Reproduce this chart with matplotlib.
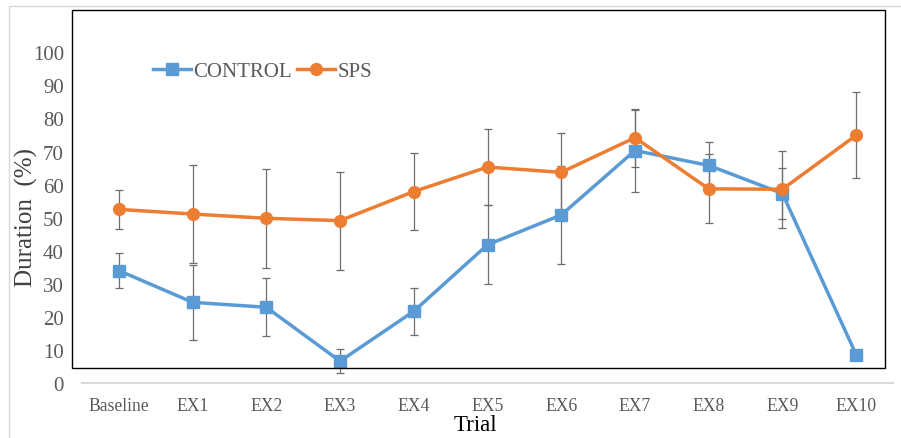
import numpy as np
import matplotlib.pyplot as plt
from matplotlib.patches import Rectangle
from matplotlib.lines import Line2D

plt.rcParams['font.family'] = ['Liberation Serif', 'DejaVu Serif']

trials = ['Baseline', 'EX1', 'EX2', 'EX3', 'EX4', 'EX5',
          'EX6', 'EX7', 'EX8', 'EX9', 'EX10']

control_mean = [34.0, 24.4, 22.9, 6.6, 21.7, 41.8, 50.8, 70.3, 65.8, 57.3, 8.6]
control_err = [5.2, 11.3, 8.7, 3.6, 7.1, 12.0, 14.7, 12.4, 7.0, 7.7, 0.0]

sps_mean = [52.5, 51.1, 49.8, 49.1, 57.9, 65.3, 63.7, 74.2, 58.7, 58.6, 74.9]
sps_err = [5.8, 14.7, 15.0, 14.8, 11.7, 11.4, 11.9, 8.8, 10.4, 11.7, 13.0]

yticks = [0, 10, 20, 30, 40, 50, 60, 70, 80, 90, 100]

blue = '#5B9BD5'
orange = '#ED7D31'
grey_txt = '#595959'
err_col = '#6E6E6E'

W, H = 901, 439
fig = plt.figure(figsize=(W / 100, H / 100), dpi=100)

# outer chart border
fig.patches.append(Rectangle((9 / W, -0.1), 1.2, 1 - 7 / H + 0.1,
                             transform=fig.transFigure, fill=False,
                             edgecolor='#D9D9D9', lw=1.0, zorder=0))

ax = fig.add_axes([82 / W, (H - 384) / H, 811 / W, 373 / H])
ax.set_xlim(-0.5, len(trials) - 0.5)
ax.set_ylim(0, 373 / 3.307)

x = np.arange(len(trials))

ax.errorbar(x, control_mean, yerr=control_err, fmt='none', ecolor=err_col,
            elinewidth=0.9, capsize=2.9, capthick=0.9, zorder=2, clip_on=False)
ax.errorbar(x, sps_mean, yerr=sps_err, fmt='none', ecolor=err_col,
            elinewidth=0.9, capsize=2.9, capthick=0.9, zorder=2, clip_on=False)

ax.plot(x, control_mean, color=blue, lw=2.5, marker='s', ms=8.5,
        zorder=3, clip_on=False)
ax.plot(x, sps_mean, color=orange, lw=2.5, marker='o', ms=8.5,
        zorder=4, clip_on=False)

for s in ['top', 'right', 'left']:
    ax.spines[s].set_visible(False)
ax.spines['bottom'].set_color('#D9D9D9')
ax.spines['bottom'].set_linewidth(1.5)

ax.set_yticks(yticks)
ax.set_yticklabels([str(v) for v in yticks])
ax.set_xticks(x)
ax.set_xticklabels(trials)
ax.tick_params(axis='y', length=0, pad=13, labelsize=15, labelcolor=grey_txt)
ax.tick_params(axis='x', length=0, pad=10, labelsize=12.7, labelcolor=grey_txt)

# black plot-area frame
fig.patches.append(Rectangle((72 / W, (H - 369) / H), 813 / W, 358 / H,
                             transform=fig.transFigure, fill=False,
                             edgecolor='black', lw=1.0, zorder=5))

fig.text(26 / W, 1 - 218 / H, 'Duration  (%)', rotation=90, ha='center',
         va='center', fontsize=18, color='#404040')
fig.text(475 / W, 1 - 426 / H, 'Trial', ha='center', va='center',
         fontsize=16.5, color='black')

handles = [Line2D([], [], color=blue, lw=2.5, marker='s', ms=8.5),
           Line2D([], [], color=orange, lw=2.5, marker='o', ms=8.5)]
leg = fig.legend(handles, ['CONTROL', 'SPS'], loc='center left',
                 bbox_to_anchor=(153 / W, 1 - 72 / H), ncol=2, frameon=False,
                 fontsize=15, handlelength=1.8, handletextpad=0.15,
                 columnspacing=0.25, borderpad=0, borderaxespad=0)
for t in leg.get_texts():
    t.set_color(grey_txt)

fig.savefig('out.png', dpi=100)
